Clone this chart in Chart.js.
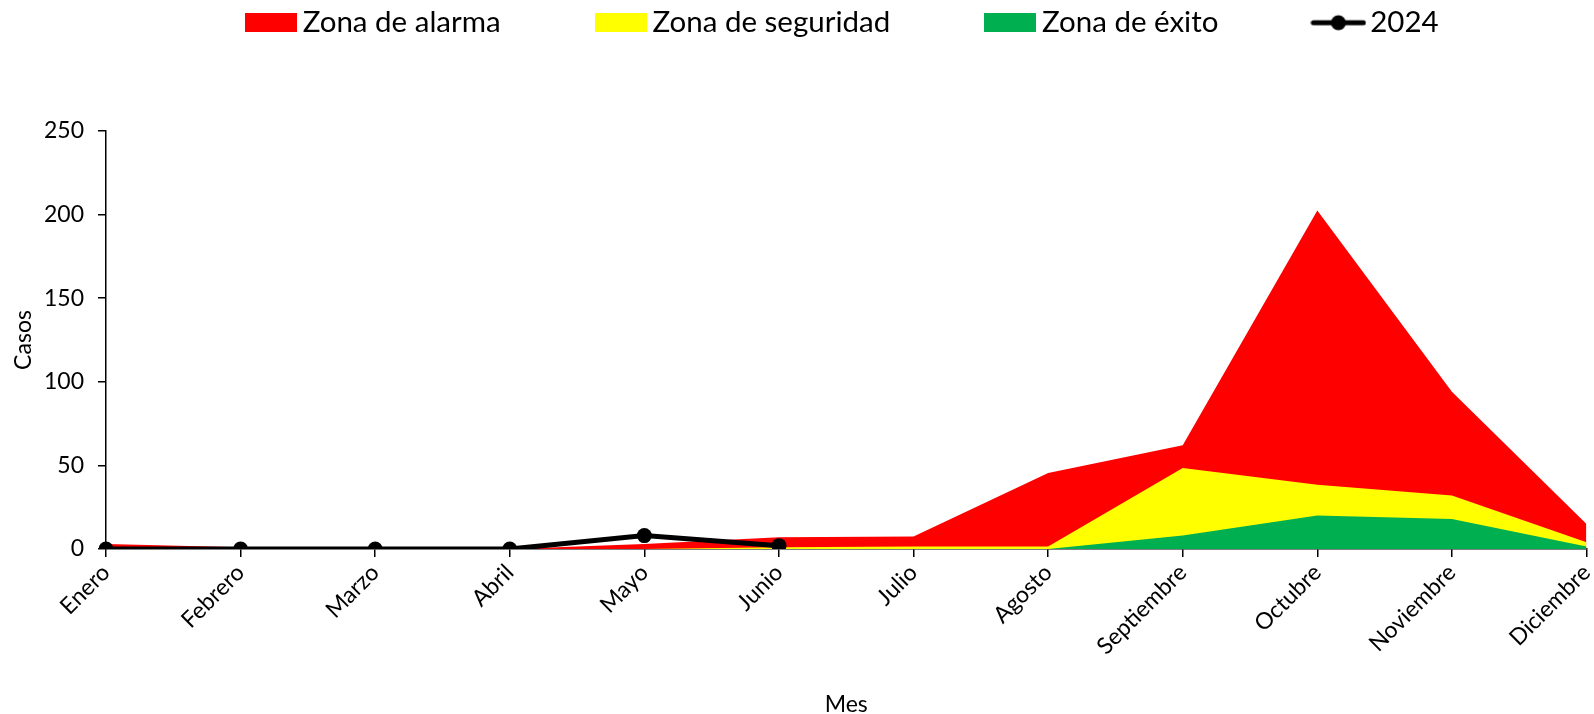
<!DOCTYPE html>
<html>
<head>
<meta charset="utf-8">
<script src="https://cdn.jsdelivr.net/npm/chart.js@4/dist/chart.umd.min.js"></script>
<style>
  html, body { margin: 0; padding: 0; background: #fff; }
  #wrap { width: 1594px; height: 714px; }
</style>
</head>
<body>
<div id="wrap"><canvas id="mainChart" width="1594" height="714"></canvas></div>
<script>
// Chart data
const meses = ['Enero', 'Febrero', 'Marzo', 'Abril', 'Mayo', 'Junio', 'Julio', 'Agosto', 'Septiembre', 'Octubre', 'Noviembre', 'Diciembre'];
const zonaAlarma = [3, 1, 0, 0, 3, 7, 7.5, 45.5, 62, 202.5, 94, 15];
const zonaSeguridad = [0, 0, 0, 0, 0, 1, 1.5, 1.5, 48.5, 38.5, 32, 4];
const zonaExito = [0, 0, 0, 0, 0, 0, 0, 0, 8, 20, 18, 1.5];
const casos2024 = [0, 0, 0, 0, 8, 2, null, null, null, null, null, null];
const yTicks = [0, 50, 100, 150, 200, 250];

const fontFamily = 'Lato, "Open Sans", sans-serif';

// legend swatches
function makeBox(color) {
    const c = document.createElement('canvas');
    c.width = 52; c.height = 19;
    const ctx = c.getContext('2d');
    ctx.fillStyle = color;
    ctx.fillRect(0, 0, 52, 19);
    return c;
}
function makeLineIcon() {
    const c = document.createElement('canvas');
    c.width = 56; c.height = 18;
    const ctx = c.getContext('2d');
    ctx.strokeStyle = '#000';
    ctx.lineWidth = 5;
    ctx.lineCap = 'round';
    ctx.beginPath();
    ctx.moveTo(3, 9); ctx.lineTo(53, 9);
    ctx.stroke();
    ctx.fillStyle = '#000';
    ctx.beginPath();
    ctx.arc(28, 9, 7.5, 0, Math.PI * 2);
    ctx.fill();
    return c;
}

const legendGap = {
    id: 'legendGap',
    beforeInit(chart) {
        const fit = chart.legend.fit;
        chart.legend.fit = function() {
            fit.bind(chart.legend)();
            this.height = 226;
        };
    }
};

const ctx = document.getElementById('mainChart').getContext('2d');
const mainChart = new Chart(ctx, {
    type: 'line',
    data: {
        labels: meses,
        datasets: [{
            label: 'Zona de alarma',
            data: zonaAlarma,
            borderWidth: 0,
            borderColor: '#ff0000',
            backgroundColor: '#ff0000',
            fill: 'origin',
            pointRadius: 0,
            tension: 0,
            order: 4,
            pointStyle: makeBox('#ff0000')
        }, {
            label: 'Zona de seguridad',
            data: zonaSeguridad,
            borderWidth: 0,
            borderColor: '#ffff00',
            backgroundColor: '#ffff00',
            fill: 'origin',
            pointRadius: 0,
            tension: 0,
            order: 3,
            pointStyle: makeBox('#ffff00')
        }, {
            label: 'Zona de éxito',
            data: zonaExito,
            borderWidth: 0,
            borderColor: '#00b050',
            backgroundColor: '#00b050',
            fill: 'origin',
            pointRadius: 0,
            tension: 0,
            order: 2,
            pointStyle: makeBox('#00b050')
        }, {
            label: '2024',
            data: casos2024,
            borderColor: '#000',
            backgroundColor: '#000',
            borderWidth: 5,
            pointRadius: 7.5,
            pointBackgroundColor: '#000',
            pointBorderWidth: 0,
            fill: false,
            tension: 0,
            spanGaps: false,
            order: 1,
            pointStyle: 'circle'
        }]
    },
    options: {
        responsive: false,
        animation: false,
        layout: {
            padding: { top: -95, left: 4, right: 6, bottom: 0 }
        },
        plugins: {
            legend: {
                position: 'top',
                fullSize: false,
                labels: {
                    usePointStyle: true,
                    pointStyleWidth: 34,
                    boxHeight: 20,
                    padding: 103,
                    color: '#000',
                    font: { family: fontFamily, size: 29.5 },
                    generateLabels: function(chart) {
                        return chart.data.datasets.map(function(ds, i) {
                            return {
                                text: ds.label,
                                pointStyle: i === 3 ? makeLineIcon() : ds.pointStyle,
                                fillStyle: ds.backgroundColor,
                                strokeStyle: ds.backgroundColor,
                                lineWidth: 0,
                                hidden: false,
                                datasetIndex: i
                            };
                        });
                    }
                }
            },
            tooltip: { enabled: false }
        },
        scales: {
            x: {
                type: 'category',
                offset: false,
                grid: { drawOnChartArea: false, drawTicks: true, tickLength: 8, color: '#000', lineWidth: 1.5 },
                border: { color: '#000', width: 1.5 },
                ticks: {
                    color: '#000',
                    font: { family: fontFamily, size: 23 },
                    minRotation: 45,
                    maxRotation: 45,
                    autoSkip: false,
                    padding: 2
                },
                title: {
                    display: true,
                    text: 'Mes',
                    color: '#000',
                    font: { family: fontFamily, size: 23 },
                    padding: { top: 4, bottom: -4 }
                },
                afterFit: function(scale) {
                    scale.height = 165;
                    scale.paddingRight = 0;
                    scale.paddingLeft = 0;
                }
            },
            y: {
                min: 0,
                max: 250,
                grid: { drawOnChartArea: false, drawTicks: true, tickLength: 8, color: '#000', lineWidth: 1.5 },
                border: { color: '#000', width: 1.5 },
                afterBuildTicks: function(scale) {
                    scale.ticks = yTicks.map(function(v) { return { value: v }; });
                },
                ticks: {
                    color: '#000',
                    font: { family: fontFamily, size: 23 },
                    padding: 14
                },
                title: {
                    display: true,
                    text: 'Casos',
                    color: '#000',
                    font: { family: fontFamily, size: 23 },
                    padding: { top: 6, bottom: 0 }
                },
                afterFit: function(scale) { scale.width = 102; }
            }
        }
    },
    plugins: [legendGap]
});
</script>
</body>
</html>
